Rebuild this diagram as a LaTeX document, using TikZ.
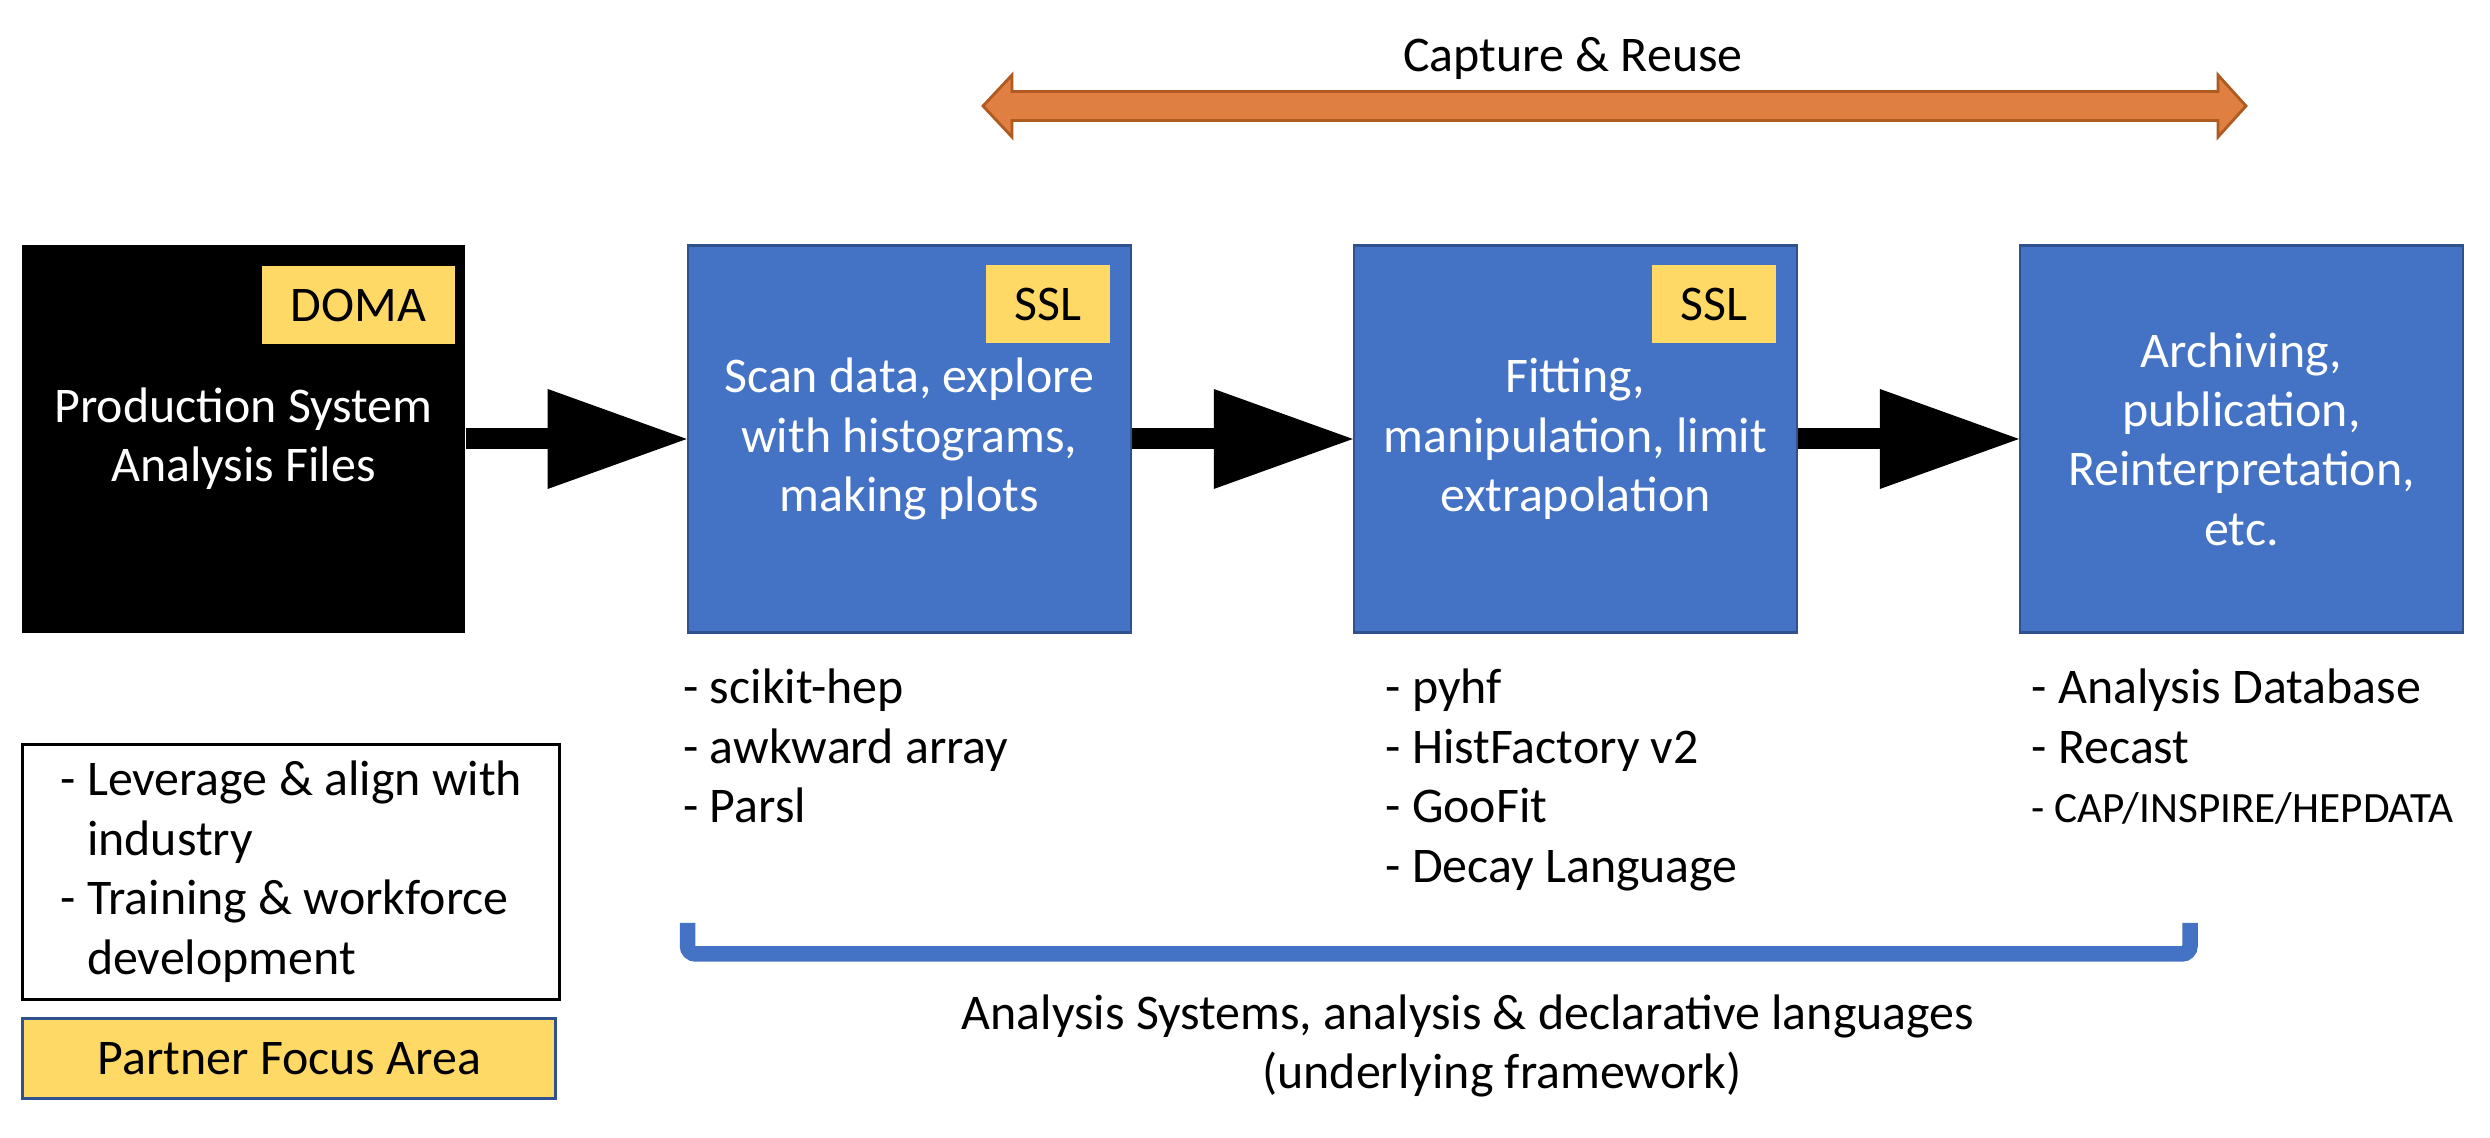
\documentclass[tikz,border=0pt]{standalone}
\usepackage{fontspec}
\setmainfont{Carlito}
\usepackage{tikz}
\usetikzlibrary{arrows.meta, positioning}
\definecolor{stageblue}{HTML}{4472C4}
\definecolor{stageline}{HTML}{2F528F}
\definecolor{tagyellow}{HTML}{FFD966}
\definecolor{reusefill}{HTML}{E07F42}
\definecolor{reuseline}{HTML}{AE5A21}
\tikzset{
    source/.style={rectangle, minimum width=4.43cm, minimum height=3.88cm, fill=black, text=white, align=center, inner sep=0pt, execute at begin node={\rule{0pt}{0.48cm}}},
    stage/.style={rectangle, minimum width=4.43cm, minimum height=3.87cm, draw=stageline, line width=0.6pt, fill=stageblue, text=white, align=center, inner sep=0pt, execute at begin node={\rule{0pt}{0.48cm}}},
    tag/.style={rectangle, minimum height=0.78cm, fill=tagyellow, text=black, inner sep=0pt},
    toollist/.style={align=left, inner sep=0pt},
    bigarrow/.style={line width=0.21cm, -{Triangle[length=1.39cm, width=1cm, line width=0pt]}},
    bracket/.style={draw=stageblue, line width=0.155cm, rounded corners=0.08cm}
}

\begin{document}
\begin{tikzpicture}[
    node distance=2.21cm,
    every node/.style={font=\fontsize{14.2}{16.9}\selectfont}
]
    \useasboundingbox (0,0) rectangle (24.9,11.38);

    % Capture & Reuse arrow
    \draw [fill=reusefill, draw=reuseline, line width=0.8pt]
        (9.83,10.32) -- (10.12,10.63) -- (10.12,10.465) -- (22.18,10.465) -- (22.18,10.63)
        -- (22.46,10.32) -- (22.18,10.01) -- (22.18,10.175) -- (10.12,10.175) -- (10.12,10.01) -- cycle;
    \node (reuse) [anchor=base, inner sep=0pt] at (15.73,10.66) {Capture \& Reuse};

    % Production system
    \node (prod) [source] at (2.435,6.99) {Production System\\Analysis Files};
    \node (doma) [tag, minimum width=1.93cm, below left=0.21cm and 0.10cm of prod.north east] {DOMA};

    % Stages
    \node (scan) [stage, right=of prod] {Scan data, explore\\with histograms,\\making plots};
    \node (ssla) [tag, minimum width=1.24cm, below left=0.20cm and 0.21cm of scan.north east] {SSL};

    \node (fit) [stage, right=of scan] {Fitting,\\manipulation, limit\\extrapolation};
    \node (sslb) [tag, minimum width=1.24cm, below left=0.20cm and 0.21cm of fit.north east] {SSL};

    \node (arch) [stage, right=of fit] {Archiving,\\publication,\\Reinterpretation,\\etc.};

    % Flow
    \draw [bigarrow] (prod) -- (scan);
    \draw [bigarrow] (scan) -- (fit);
    \draw [bigarrow] (fit) -- (arch);

    % Tools
    \node (toolsa) [toollist, below right=0.35cm and -0.04cm of scan.south west] {- scikit-hep\\- awkward array\\- Parsl};
    \node (toolsb) [toollist, below right=0.35cm and 0.32cm of fit.south west] {- pyhf\\- HistFactory v2\\- GooFit\\- Decay Language};
    \node (toolsc) [toollist, below right=0.35cm and 0.12cm of arch.south west] {- Analysis Database\\- Recast\\{\fontsize{12.3}{14.5}\selectfont - CAP/INSPIRE/HEPDATA}};

    % Legend
    \node (goals) [draw=black, line width=0.9pt, minimum width=5.37cm, minimum height=2.55cm, inner sep=0pt, align=left, below right=1.09cm and 0cm of prod.south west]
        {-~Leverage \& align with\\\phantom{-~}industry\\-~Training \& workforce\\\phantom{-~}development};
    \node (partner) [draw=stageline, line width=0.9pt, fill=tagyellow, minimum width=5.33cm, minimum height=0.8cm, inner sep=0pt, below right=0.16cm and 0cm of goals.south west] {Partner Focus Area};

    % Framework bracket
    \draw [bracket] (6.875,2.15) -- (6.875,1.84) -- (21.90,1.84) -- (21.90,2.15);
    \node (frame) [anchor=north, inner sep=0pt, align=center] at (14.68,1.44)
        {Analysis Systems, analysis \& declarative languages\\\hspace*{0.68cm}(underlying framework)};

\end{tikzpicture}
\end{document}
